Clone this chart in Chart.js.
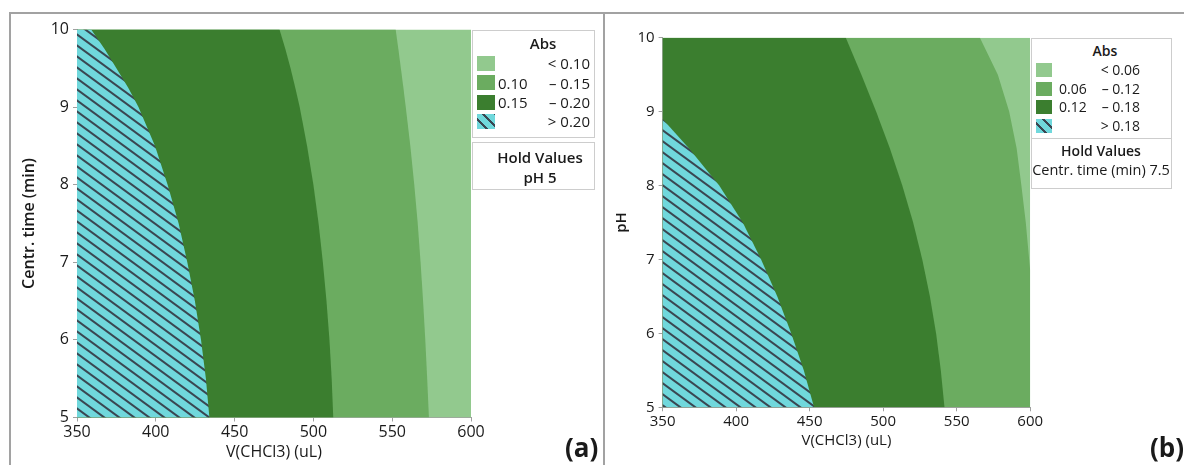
<!DOCTYPE html>
<html>
<head>
<meta charset="utf-8">
<script src="https://cdn.jsdelivr.net/npm/chart.js@4.4.1/dist/chart.umd.min.js"></script>
<style>
  body { margin: 0; width: 1184px; height: 465px; overflow: hidden; position: relative; background: #fff;
         font-family: "Open Sans", "Noto Sans", sans-serif; color: #1a1a1a; }
  .abs { position: absolute; }
  .line { position: absolute; background: #a2a2a2; }
  .box { position: absolute; border: 1px solid #cdcdcd; box-sizing: border-box; background: #fff; }
  .txt { position: absolute; white-space: pre; }
  .sw { position: absolute; }
</style>
</head>
<body>
<div class="abs" style="left:0;top:0;width:604px;height:465px"><canvas id="chartA"></canvas></div>
<div class="abs" style="left:605px;top:0;width:579px;height:465px"><canvas id="chartB"></canvas></div>

<div class="line" style="left:9px;top:12px;width:1175px;height:1.5px"></div>
<div class="line" style="left:9px;top:12px;width:1.5px;height:453px"></div>
<div class="line" style="left:603px;top:12px;width:2px;height:453px"></div>

<div id="legends"></div>

<script>
// axis ticks
const volTicks = [350, 400, 450, 500, 550, 600];
const timeTicks = [5, 6, 7, 8, 9, 10];
const phTicks = [5, 6, 7, 8, 9, 10];

// panel (a): contour edges, V(CHCl3) read at each centr. time level
const aTimeLevels = [10, 9.75, 9.5, 9.25, 9, 8.5, 8, 7.5, 7, 6.5, 6, 5.5, 5];
const aEdge020 = [359, 367.5, 375, 382.5, 389, 399.5, 407.5, 414.5, 420, 424.8, 428.7, 431.8, 434];
const aEdge015 = [478.5, 482.2, 485.5, 488.5, 491.3, 496, 500, 503.3, 506, 508.3, 510.2, 511.6, 512.6];
const aEdge010 = [552.2, 553.9, 555.5, 557.1, 558.6, 561.5, 564, 566.2, 568, 569.6, 571, 572.2, 573.3];

// panel (b): contour edges, V(CHCl3) read at each pH level
const bPhLevels = [10, 9.5, 9, 8.5, 8, 7.5, 7, 6.5, 6, 5.5, 5];
const bEdge012 = [474.6, 485.2, 495.2, 504.6, 513, 520.4, 526.6, 531.8, 536, 539.2, 541.7];
const bCyanPh = [8.9, 8.5, 8, 7.5, 7, 6.5, 6, 5.5, 5];
const bEdge018 = [350, 368, 388.5, 404.5, 417, 428, 437.5, 446, 453];
const bLightPh = [10, 9.5, 9, 8.5, 8, 7.5, 7, 6.85];
const bEdge006 = [565.8, 578, 585.7, 590.8, 594, 597, 599.3, 600];

// legend classes: lower bound, sign, upper bound
const aLegendLo = ['', '0.10', '0.15', ''];
const aLegendSign = ['<', '\u2013', '\u2013', '>'];
const aLegendHi = ['0.10', '0.15', '0.20', '0.20'];
const bLegendLo = ['', '0.06', '0.12', ''];
const bLegendSign = ['<', '\u2013', '\u2013', '>'];
const bLegendHi = ['0.06', '0.12', '0.18', '0.18'];

const colLight = '#92c98e', colMid = '#6bac60', colDark = '#3b7e2f', colCyan = '#70d8dc', colHatch = '#3a4651';

function makeHatch() {
  const w = 15, h = 11;
  const c = document.createElement('canvas');
  c.width = w; c.height = h;
  const g = c.getContext('2d');
  g.fillStyle = colCyan;
  g.fillRect(0, 0, w, h);
  g.strokeStyle = colHatch;
  g.lineWidth = 2;
  for (let k = -1; k <= 1; k++) {
    g.beginPath();
    g.moveTo(-2, -2 * h / w + k * h);
    g.lineTo(w + 2, h + 2 * h / w + k * h);
    g.stroke();
  }
  return g.createPattern(c, 'repeat');
}
const hatch = makeHatch();

function edgePoints(xs, ys) {
  return xs.map((x, i) => ({ x: x, y: ys[i] }));
}

function region(data, color, order) {
  return { data: data, showLine: true, fill: 'shape', backgroundColor: color, borderColor: 'transparent',
           borderWidth: 0, pointRadius: 0, order: order };
}

function makeChart(id, datasets, o) {
  new Chart(document.getElementById(id), {
    type: 'scatter',
    data: { datasets: datasets },
    options: {
      responsive: true,
      maintainAspectRatio: false,
      animation: false,
      events: [],
      layout: { padding: { top: o.top, right: o.right, bottom: 0, left: 0 } },
      plugins: { legend: { display: false }, tooltip: { enabled: false } },
      scales: {
        x: {
          min: volTicks[0], max: volTicks[volTicks.length - 1],
          afterBuildTicks: s => { s.ticks = volTicks.map(v => ({ value: v })); },
          afterFit: s => { s.height = o.xh; },
          grid: { drawOnChartArea: false, tickLength: 4, color: '#a0a0a0' },
          border: { color: '#a0a0a0' },
          ticks: { font: { size: o.fs, family: 'Open Sans' }, color: '#1a1a1a', padding: 1, maxRotation: 0 },
          title: { display: true, text: 'V(CHCl3) (uL)', font: { size: o.fs, family: 'Open Sans' }, color: '#1a1a1a',
                   padding: { top: 0, bottom: o.xtp } }
        },
        y: {
          min: o.yTicks[0], max: o.yTicks[o.yTicks.length - 1],
          afterBuildTicks: s => { s.ticks = o.yTicks.map(v => ({ value: v })); },
          afterFit: s => { s.width = o.yw; },
          grid: { drawOnChartArea: false, tickLength: 4, color: '#a0a0a0' },
          border: { color: '#a0a0a0' },
          ticks: { font: { size: o.fs, family: 'Open Sans' }, color: '#1a1a1a', padding: 4 },
          title: { display: true, text: o.ytitle, font: { size: o.fs, family: 'Open Sans', weight: '600' }, color: '#1a1a1a',
                   padding: { top: o.ytp, bottom: 0 } }
        }
      }
    }
  });
}

// panel (a)
const xMin = volTicks[0], xMax = volTicks[volTicks.length - 1];
const aTop = timeTicks[timeTicks.length - 1], aBot = timeTicks[0];
const aCorner = [{ x: xMin, y: aBot }, { x: xMin, y: aTop }];
makeChart('chartA', [
  region(edgePoints(aEdge020, aTimeLevels).concat(aCorner), hatch, 1),
  region(edgePoints(aEdge015, aTimeLevels).concat(aCorner), colDark, 2),
  region(edgePoints(aEdge010, aTimeLevels).concat(aCorner), colMid, 3),
  region([{ x: xMin, y: aTop }, { x: xMax, y: aTop }, { x: xMax, y: aBot }, { x: xMin, y: aBot }], colLight, 4)
], { top: 29.5, right: 133, xh: 47.5, yw: 77, fs: 16, xtp: 3, ytp: 20, yTicks: timeTicks, ytitle: 'Centr. time (min)' });

// panel (b)
const bTop = phTicks[phTicks.length - 1], bBot = phTicks[0];
makeChart('chartB', [
  region(edgePoints(bEdge018, bCyanPh).concat([{ x: xMin, y: bBot }]), hatch, 1),
  region(edgePoints(bEdge012, bPhLevels).concat([{ x: xMin, y: bBot }, { x: xMin, y: bTop }]), colDark, 2),
  region(edgePoints(bEdge006, bLightPh).concat([{ x: xMax, y: bBot }, { x: xMin, y: bBot }, { x: xMin, y: bTop }]), colMid, 3),
  region([{ x: xMin, y: bTop }, { x: xMax, y: bTop }, { x: xMax, y: bBot }, { x: xMin, y: bBot }], colLight, 4)
], { top: 37.7, right: 153.8, xh: 57.7, yw: 57.6, fs: 15, xtp: 15, ytp: 8, yTicks: phTicks, ytitle: 'pH' });

// legends (html boxes beside each plot)
const host = document.getElementById('legends');
function add(cls, style, text) {
  const d = document.createElement('div');
  d.className = cls;
  d.setAttribute('style', style);
  if (text) d.textContent = text;
  host.appendChild(d);
  return d;
}
const swatchBg = [colLight, colMid, colDark,
  'repeating-linear-gradient(45deg, ' + colCyan + ' 0 6px, ' + colHatch + ' 6px 8px)'];

function legend(L) {
  add('box', `left:${L.x}px;top:${L.y}px;width:${L.w}px;height:${L.h}px`);
  add('box', `left:${L.x}px;top:${L.hy}px;width:${L.w}px;height:${L.hh}px`);
  add('txt', `left:${L.tc - 60}px;width:120px;text-align:center;top:${L.ty - 10}px;line-height:20px;font-size:${L.tfs}px;font-weight:600`, 'Abs');
  L.hi.forEach((hi, i) => {
    const cy = L.rows[i];
    add('sw', `left:${L.sx}px;top:${cy - L.sh / 2}px;width:${L.sw}px;height:${L.sh}px;background:${swatchBg[i]}`);
    if (L.lo[i]) add('txt', `left:${L.tl}px;top:${cy - 10}px;line-height:20px;font-size:${L.fs}px`, L.lo[i]);
    add('txt', `left:${L.tr - 120}px;width:120px;text-align:right;top:${cy - 10}px;line-height:20px;font-size:${L.fs}px`, L.sign[i] + ' ' + hi);
  });
  L.hold.forEach((t, i) => {
    add('txt', `left:${L.hc - 80}px;width:160px;text-align:center;top:${L.hrows[i] - 10}px;line-height:20px;font-size:${L.hfs[i]}px;font-weight:${L.hw[i]}`, t);
  });
}
legend({ x: 472, y: 29.5, w: 123, h: 108, hy: 142, hh: 48, tc: 543, ty: 43, tfs: 15, fs: 15,
         lo: aLegendLo, sign: aLegendSign, hi: aLegendHi,
         rows: [63, 82.5, 102, 121], sx: 477, sw: 18, sh: 15, tl: 498, tr: 590,
         hold: ['Hold Values', 'pH 5'], hc: 540, hrows: [157, 177], hfs: [15, 15], hw: [600, 600] });
legend({ x: 1031, y: 38, w: 141, h: 101, hy: 138, hh: 51, tc: 1105, ty: 51, tfs: 14, fs: 14,
         lo: bLegendLo, sign: bLegendSign, hi: bLegendHi,
         rows: [70, 88.5, 107, 126], sx: 1036, sw: 16, sh: 14, tl: 1059, tr: 1140,
         hold: ['Hold Values', 'Centr. time (min) 7.5'], hc: 1101, hrows: [151, 170], hfs: [14, 14.5], hw: [600, 400] });

add('txt', 'left:565px;top:430px;line-height:34px;font-size:26px;font-weight:700', '(a)');
add('txt', 'left:1150px;top:430px;line-height:34px;font-size:26px;font-weight:700', '(b)');
</script>
</body>
</html>
